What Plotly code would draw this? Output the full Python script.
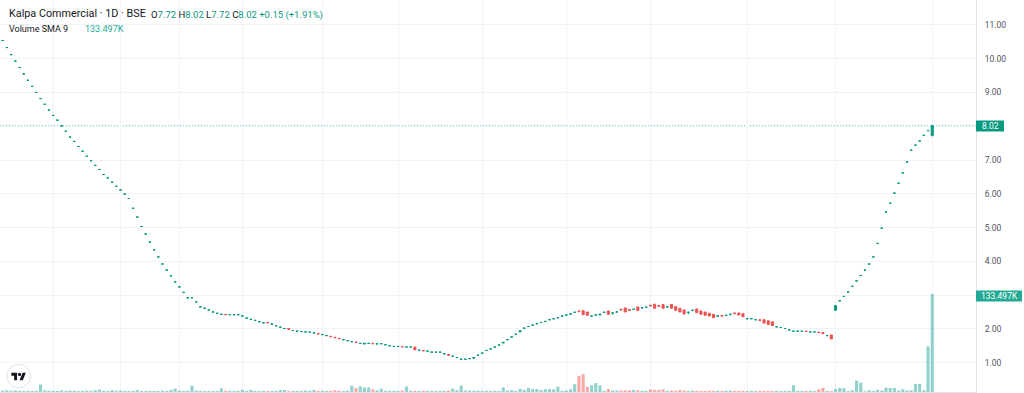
import plotly.graph_objects as go

# ---------------- data ----------------
closes = [
    10.54, 10.33, 10.12, 9.93, 9.74, 9.55, 9.36, 9.18, 9.00, 8.82,
    8.65, 8.48, 8.32, 8.18, 8.01, 7.85, 7.68, 7.55, 7.40, 7.26,
    7.11, 6.98, 6.84, 6.72, 6.57, 6.47, 6.34, 6.22, 6.11, 5.99,
    5.86, 5.57, 5.31, 5.03, 4.81, 4.57, 4.34, 4.13, 3.92, 3.74,
    3.57, 3.39, 3.24, 3.08, 2.92, 2.92, 2.80, 2.65, 2.61, 2.56,
    2.50, 2.46, 2.43, 2.42, 2.42, 2.42, 2.42, 2.38, 2.32, 2.28,
    2.25, 2.21, 2.18, 2.18, 2.14, 2.09, 2.05, 2.01, 1.99, 1.95,
    1.93, 1.92, 1.91, 1.90, 1.88, 1.85, 1.83, 1.80, 1.77, 1.74,
    1.71, 1.68, 1.65, 1.62, 1.60, 1.57, 1.57, 1.57, 1.56, 1.56,
    1.56, 1.53, 1.50, 1.48, 1.48, 1.47, 1.46, 1.46, 1.38, 1.37,
    1.35, 1.34, 1.31, 1.31, 1.31, 1.26, 1.22, 1.19, 1.15, 1.10,
    1.10, 1.12, 1.15, 1.22, 1.28, 1.36, 1.41, 1.46, 1.52, 1.60,
    1.68, 1.76, 1.84, 1.94, 2.02, 2.07, 2.11, 2.15, 2.19, 2.22,
    2.27, 2.30, 2.33, 2.38, 2.41, 2.44, 2.49, 2.51, 2.42, 2.40,
    2.38, 2.41, 2.43, 2.49, 2.43, 2.47, 2.50, 2.56, 2.50, 2.55,
    2.58, 2.54, 2.62, 2.64, 2.68, 2.61, 2.67, 2.61, 2.65, 2.61,
    2.55, 2.50, 2.44, 2.49, 2.55, 2.48, 2.43, 2.40, 2.38, 2.33,
    2.38, 2.38, 2.40, 2.43, 2.45, 2.41, 2.36, 2.30, 2.30, 2.27,
    2.25, 2.17, 2.13, 2.10, 2.06, 2.04, 2.01, 1.97, 1.93, 1.93,
    1.93, 1.92, 1.91, 1.91, 1.89, 1.86, 1.80, 1.70, 2.69, 2.83,
    2.96, 3.09, 3.26, 3.42, 3.58, 3.74, 3.92, 4.13, 4.53, 4.98,
    5.46, 5.72, 6.02, 6.31, 6.62, 6.94, 7.29, 7.44, 7.56, 7.73,
    7.87, 8.02,
]

opens = [
    10.54, 10.33, 10.12, 9.93, 9.74, 9.55, 9.36, 9.18, 9.00, 8.82,
    8.65, 8.48, 8.32, 8.18, 8.01, 7.85, 7.68, 7.55, 7.40, 7.26,
    7.11, 6.98, 6.84, 6.72, 6.57, 6.47, 6.34, 6.22, 6.11, 5.99,
    5.86, 5.57, 5.31, 5.03, 4.81, 4.57, 4.34, 4.13, 3.92, 3.74,
    3.57, 3.39, 3.24, 3.08, 2.92, 2.92, 2.80, 2.65, 2.61, 2.56,
    2.50, 2.46, 2.43, 2.43, 2.42, 2.42, 2.42, 2.38, 2.32, 2.28,
    2.25, 2.21, 2.18, 2.19, 2.14, 2.09, 2.05, 2.01, 2.01, 1.95,
    1.93, 1.92, 1.91, 1.90, 1.88, 1.86, 1.83, 1.80, 1.78, 1.75,
    1.72, 1.68, 1.65, 1.62, 1.61, 1.57, 1.55, 1.57, 1.57, 1.55,
    1.56, 1.53, 1.50, 1.48, 1.48, 1.48, 1.46, 1.46, 1.46, 1.37,
    1.36, 1.34, 1.31, 1.31, 1.31, 1.26, 1.24, 1.19, 1.15, 1.10,
    1.10, 1.12, 1.13, 1.22, 1.28, 1.36, 1.41, 1.46, 1.52, 1.58,
    1.68, 1.76, 1.84, 1.91, 2.02, 2.07, 2.11, 2.15, 2.19, 2.22,
    2.27, 2.30, 2.33, 2.38, 2.41, 2.44, 2.49, 2.53, 2.54, 2.50,
    2.38, 2.41, 2.41, 2.49, 2.53, 2.47, 2.50, 2.58, 2.62, 2.57,
    2.58, 2.65, 2.62, 2.64, 2.70, 2.73, 2.69, 2.72, 2.65, 2.72,
    2.66, 2.61, 2.56, 2.49, 2.55, 2.59, 2.53, 2.50, 2.46, 2.43,
    2.38, 2.39, 2.40, 2.43, 2.47, 2.47, 2.45, 2.30, 2.30, 2.27,
    2.27, 2.27, 2.24, 2.21, 2.06, 2.04, 2.01, 1.97, 1.93, 1.93,
    1.93, 1.93, 1.91, 1.91, 1.90, 1.89, 1.80, 1.82, 2.55, 2.83,
    2.96, 3.09, 3.26, 3.42, 3.58, 3.74, 3.92, 4.13, 4.53, 4.98,
    5.46, 5.72, 6.02, 6.31, 6.62, 6.94, 7.29, 7.44, 7.56, 7.73,
    7.87, 7.72,
]

# the few candles with visible wicks beyond their body
wick_highs = {64: 2.17}
wick_lows = {64: 2.12, 145: 2.42, 163: 2.43, 173: 2.39}

# volume, thousands of shares
volume_k = [
    1.8, 2.2, 1.5, 2.4, 1.8, 1.4, 1.6, 1.3, 1.5, 10.3,
    2.2, 1.8, 1.6, 1.4, 2.2, 1.5, 2.0, 1.6, 1.3, 1.5,
    1.9, 1.5, 2.4, 3.2, 1.6, 1.4, 2.6, 1.7, 1.9, 1.5,
    1.4, 1.6, 2.6, 1.5, 1.3, 1.5, 1.4, 1.4, 2.0, 1.5,
    3.0, 4.6, 1.8, 1.4, 1.6, 8.3, 1.8, 1.5, 1.3, 1.4,
    1.6, 1.4, 4.8, 1.7, 1.6, 1.4, 1.5, 3.0, 1.6, 2.8,
    1.5, 1.4, 1.6, 1.5, 1.4, 1.5, 2.7, 2.7, 1.4, 1.6,
    1.4, 1.7, 2.0, 1.5, 2.6, 1.5, 1.6, 1.4, 1.5, 2.5,
    1.5, 1.5, 1.7, 8.6, 5.5, 7.8, 6.2, 6.0, 3.6, 2.2,
    4.6, 1.7, 1.6, 1.7, 1.5, 1.8, 7.5, 2.0, 1.5, 1.5,
    1.7, 1.6, 1.5, 1.4, 1.8, 1.6, 1.8, 4.6, 2.4, 8.8,
    2.0, 1.8, 1.7, 2.0, 1.5, 1.8, 1.6, 1.5, 1.4, 6.2,
    2.0, 2.6, 1.5, 4.3, 3.0, 5.4, 4.0, 4.0, 2.6, 4.0,
    3.8, 3.7, 7.3, 1.6, 2.0, 3.7, 10.6, 22.0, 24.4, 7.3,
    9.2, 12.0, 9.2, 1.6, 4.1, 2.0, 2.0, 2.0, 2.3, 2.3,
    2.8, 2.3, 1.6, 1.6, 3.7, 2.8, 2.8, 3.7, 1.6, 2.0,
    1.6, 2.8, 1.8, 1.5, 1.7, 1.5, 1.6, 1.4, 1.8, 1.5,
    1.6, 1.4, 1.7, 2.0, 1.5, 1.5, 1.7, 1.4, 1.5, 1.4,
    1.6, 1.5, 1.4, 1.4, 1.5, 1.4, 1.5, 1.5, 9.2, 1.4,
    1.5, 1.4, 1.5, 1.4, 3.7, 5.5, 1.4, 1.2, 4.1, 5.5,
    5.1, 1.2, 2.3, 15.6, 12.8, 1.0, 2.3, 1.6, 3.2, 2.0,
    5.9, 5.5, 5.5, 2.0, 3.7, 2.0, 2.3, 11.0, 11.0, 2.3,
    62.3, 133.497,
]

# candles on which the vertical (month) grid lines fall
month_start_idx = [12, 28, 42, 57, 76, 94, 114, 134, 154, 177, 198, 221]

price_ticks = [1, 2, 3, 4, 5, 6, 7, 8, 9, 10, 11]
# 3.00 and 8.00 are covered by the volume and last-price labels in the reference
price_tick_labels = ["1.00", "2.00", "", "4.00", "5.00", "6.00",
                     "7.00", "", "9.00", "10.00", "11.00"]

title_text = "Kalpa Commercial · 1D · BSE"
ohlc_labels = ["O", "H", "L", "C"]
ohlc_values = ["7.72", "8.02", "7.72", "8.02"]
change_text = "+0.15 (+1.91%)"
last_price_text = "8.02"
volume_name = "Volume SMA 9"
volume_value_text = "133.497K"

# ---------------- styling ----------------
UP = "#089981"
DOWN = "#ef5350"
VOL_UP = "rgba(38,166,154,0.5)"
VOL_DOWN = "rgba(239,83,80,0.5)"
GRID = "#f0f3fa"
TEXT = "#131722"
AXIS_TEXT = "#50535e"
FONT = "Roboto"

PLOT_W, PLOT_H = 976, 392


def px_x(px):
    return px / PLOT_W


def px_y(py):
    return (PLOT_H - py) / PLOT_H


n = len(closes)
idx = list(range(n))
highs = [max(opens[i], closes[i], wick_highs.get(i, 0)) for i in idx]
lows = [min(opens[i], closes[i], wick_lows.get(i, 1e9)) for i in idx]
is_up = [closes[i] >= opens[i] for i in idx]

fig = go.Figure()

fig.add_trace(go.Bar(
    x=idx, y=[v * 1000 for v in volume_k], yaxis="y2",
    marker=dict(color=[VOL_UP if u else VOL_DOWN for u in is_up], line=dict(width=0)),
    width=0.74, hoverinfo="skip", showlegend=False,
))

for flag, col in ((True, UP), (False, DOWN)):
    sel = [i for i in idx if is_up[i] == flag]
    fig.add_trace(go.Candlestick(
        x=sel,
        open=[opens[i] for i in sel], high=[highs[i] for i in sel],
        low=[lows[i] for i in sel], close=[closes[i] for i in sel],
        increasing=dict(line=dict(color=col, width=1), fillcolor=col),
        decreasing=dict(line=dict(color=col, width=1), fillcolor=col),
        whiskerwidth=0, showlegend=False, hoverinfo="skip",
    ))

last_price = closes[-1]

shapes = [
    dict(type="line", xref="paper", yref="y", x0=0, x1=1, y0=last_price, y1=last_price,
         line=dict(color="#6cc7b4", width=1, dash="1px,2px"), layer="below"),
    dict(type="rect", xref="paper", yref="paper", x0=px_x(976), x1=px_x(1004),
         y0=px_y(131.5), y1=px_y(120.5), fillcolor=UP, line=dict(width=0)),
    dict(type="rect", xref="paper", yref="paper", x0=px_x(976), x1=px_x(1022),
         y0=px_y(301.5), y1=px_y(290.5), fillcolor="#22ab94", line=dict(width=0)),
    # TradingView logo badge
    dict(type="circle", xref="paper", yref="paper", x0=px_x(7), x1=px_x(30.5),
         y0=px_y(387.8), y1=px_y(364.3), fillcolor="white",
         line=dict(color="#e0e3eb", width=1)),
]

# logo glyph (T-block, dot and slanted stroke)
lx0, ly0, s = 11.3, 371.2, 0.41


def logo_path(points):
    parts = []
    for k, (a, b) in enumerate(points):
        parts.append(("M" if k == 0 else "L") + f"{px_x(lx0 + s * a):.5f},{px_y(ly0 + s * b):.5f}")
    return " ".join(parts) + " Z"


shapes.append(dict(type="path", xref="paper", yref="paper",
                   path=logo_path([(14, 22), (7, 22), (7, 11), (0, 11), (0, 4), (14, 4)]),
                   fillcolor="#131722", line=dict(width=0)))
shapes.append(dict(type="path", xref="paper", yref="paper",
                   path=logo_path([(28, 22), (20, 22), (27.5, 4), (35.5, 4)]),
                   fillcolor="#131722", line=dict(width=0)))
shapes.append(dict(type="circle", xref="paper", yref="paper",
                   x0=px_x(lx0 + s * 16), x1=px_x(lx0 + s * 24),
                   y0=px_y(ly0 + s * 12), y1=px_y(ly0 + s * 4),
                   fillcolor="#131722", line=dict(width=0)))

ohlc_html = " ".join(
    f"<span style='color:{TEXT}'>{lab}</span><span style='color:{UP}'>{val}</span>"
    for lab, val in zip(ohlc_labels, ohlc_values)
) + f" <span style='color:{UP}'>{change_text}</span>"

annotations = [
    dict(x=px_x(7), y=px_y(13.5), xref="paper", yref="paper", xanchor="left", yanchor="middle",
         text=title_text, showarrow=False, font=dict(family=FONT, size=10.8, color=TEXT)),
    dict(x=px_x(149), y=px_y(14.5), xref="paper", yref="paper", xanchor="left", yanchor="middle",
         text=ohlc_html, showarrow=False, font=dict(family=FONT, size=9.5, color=TEXT)),
    dict(x=px_x(7), y=px_y(29.5), xref="paper", yref="paper", xanchor="left", yanchor="middle",
         text=volume_name, showarrow=False, font=dict(family=FONT, size=9, color=TEXT)),
    dict(x=px_x(83), y=px_y(29.5), xref="paper", yref="paper", xanchor="left", yanchor="middle",
         text=volume_value_text, showarrow=False, font=dict(family=FONT, size=9, color="#22ab94")),
    dict(x=px_x(990.5), y=px_y(126), xref="paper", yref="paper", xanchor="center", yanchor="middle",
         text=last_price_text, showarrow=False, font=dict(family=FONT, size=8.5, color="white")),
    dict(x=px_x(1000), y=px_y(296), xref="paper", yref="paper", xanchor="center", yanchor="middle",
         text=volume_value_text, showarrow=False, font=dict(family=FONT, size=8.5, color="white")),
]

fig.update_layout(
    width=1024, height=393,
    margin=dict(l=0, r=48, t=0, b=1, autoexpand=False),
    paper_bgcolor="white", plot_bgcolor="white",
    showlegend=False, boxmode="overlay",
    xaxis=dict(range=[-0.642, 231.4], tickvals=month_start_idx, showticklabels=False,
               showgrid=True, gridcolor=GRID, gridwidth=1, zeroline=False, ticks="",
               rangeslider=dict(visible=False), showline=True, linecolor="#e0e3eb",
               fixedrange=True),
    yaxis=dict(side="right", range=[0.13, 11.738], tickvals=price_ticks,
               ticktext=price_tick_labels, showgrid=True, gridcolor=GRID, gridwidth=1,
               zeroline=False, ticks="", showline=True, linecolor="#e0e3eb",
               tickfont=dict(family=FONT, size=8.5, color=AXIS_TEXT),
               ticklabelstandoff=6),
    yaxis2=dict(overlaying="y", range=[0, 534000], visible=False),
    shapes=shapes,
    annotations=annotations,
)

fig.write_html(
    "out.html",
    config={"displayModeBar": False},
    post_script="document.body.style.margin='0';document.body.style.overflow='hidden';",
)
